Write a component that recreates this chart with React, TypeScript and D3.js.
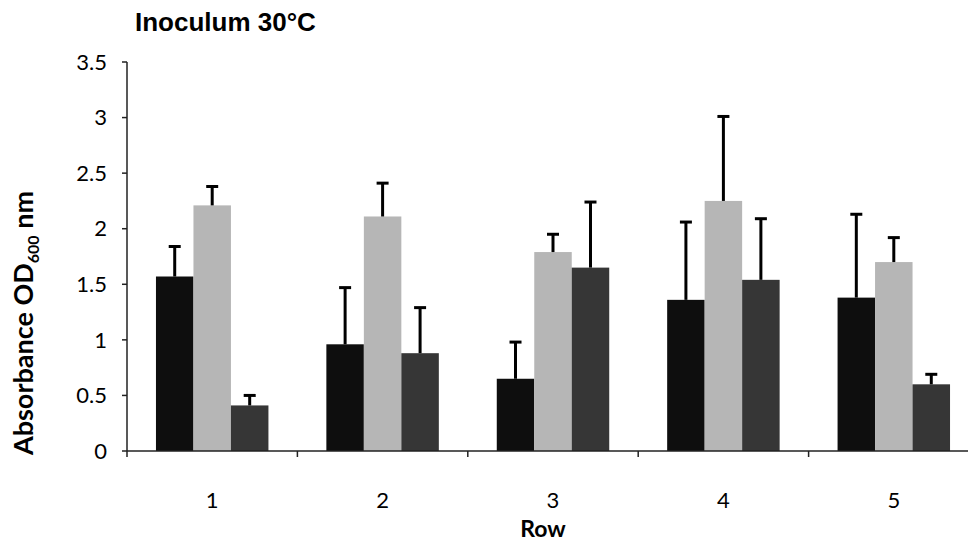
import React, { useEffect, useRef } from "react";
import * as d3 from "d3";

const rows = ["1", "2", "3", "4", "5"];
const series = ["a", "b", "c"];
const colors = ["#0e0e0e", "#b6b6b6", "#363636"];
const means = [
   [1.57, 2.21, 0.41],
   [0.96, 2.11, 0.88],
   [0.65, 1.79, 1.65],
   [1.36, 2.25, 1.54],
   [1.38, 1.7, 0.6],
];
const errors = [
   [0.27, 0.17, 0.09],
   [0.51, 0.3, 0.41],
   [0.33, 0.16, 0.59],
   [0.7, 0.76, 0.55],
   [0.75, 0.22, 0.09],
];
const yTicks = [0, 0.5, 1, 1.5, 2, 2.5, 3, 3.5];

export default function App() {
   const ref = useRef<SVGSVGElement>(null);

   useEffect(() => {
      const svg = d3.select(ref.current);
      svg.selectAll("*").remove();

      const left = 127;
      const right = 979;
      const top = 62;
      const bottom = 451;

      const x0 = d3
         .scaleBand()
         .domain(rows)
         .range([left, right])
         .paddingInner(0.34)
         .paddingOuter(0.17);
      const x1 = d3
         .scaleBand()
         .domain(series)
         .range([0, x0.bandwidth()]);
      const y = d3.scaleLinear().domain([0, 3.5]).range([bottom, top]);

      const groups = svg
         .selectAll(".grp")
         .data(rows)
         .enter()
         .append("g")
         .attr("class", "grp")
         .attr("transform", (d) => "translate(" + x0(d) + ",0)");

      const cells = (d: string, i: number) =>
         series.map((s, j) => ({ s, j, v: means[i][j], e: errors[i][j] }));

      groups
         .selectAll("rect")
         .data(cells)
         .enter()
         .append("rect")
         .attr("x", (d) => x1(d.s)!)
         .attr("width", x1.bandwidth())
         .attr("y", (d) => y(d.v))
         .attr("height", (d) => y(0) - y(d.v))
         .attr("fill", (d) => colors[d.j]);

      const eb = groups
         .selectAll(".err")
         .data(cells)
         .enter()
         .append("g")
         .attr("class", "err");
      eb.append("line")
         .attr("x1", (d) => x1(d.s)! + x1.bandwidth() / 2)
         .attr("x2", (d) => x1(d.s)! + x1.bandwidth() / 2)
         .attr("y1", (d) => y(d.v))
         .attr("y2", (d) => y(d.v + d.e))
         .attr("stroke", "#000")
         .attr("stroke-width", 3);
      eb.append("line")
         .attr("x1", (d) => x1(d.s)! + x1.bandwidth() / 2 - 6)
         .attr("x2", (d) => x1(d.s)! + x1.bandwidth() / 2 + 6)
         .attr("y1", (d) => y(d.v + d.e))
         .attr("y2", (d) => y(d.v + d.e))
         .attr("stroke", "#000")
         .attr("stroke-width", 3);

      // y axis
      svg.append("line")
         .attr("x1", left)
         .attr("x2", left)
         .attr("y1", top)
         .attr("y2", bottom)
         .attr("stroke", "#222")
         .attr("stroke-width", 1.5);
      svg.selectAll(".ytick")
         .data(yTicks)
         .enter()
         .append("line")
         .attr("x1", left - 5)
         .attr("x2", left)
         .attr("y1", (d) => y(d))
         .attr("y2", (d) => y(d))
         .attr("stroke", "#222")
         .attr("stroke-width", 1.5);
      svg.selectAll(".ylab")
         .data(yTicks)
         .enter()
         .append("text")
         .attr("x", left - 20)
         .attr("y", (d) => y(d))
         .attr("dy", "0.35em")
         .attr("text-anchor", "end")
         .style("font-family", "Lato, sans-serif")
         .style("font-size", "22px")
         .text((d) => String(d));

      // x axis
      const step = x0.step();
      svg.append("line")
         .attr("x1", left)
         .attr("x2", 968)
         .attr("y1", bottom)
         .attr("y2", bottom)
         .attr("stroke", "#222")
         .attr("stroke-width", 1.5);
      svg.selectAll(".xtick")
         .data(rows)
         .enter()
         .append("line")
         .attr("x1", (d) => x0(d)! - step * 0.17)
         .attr("x2", (d) => x0(d)! - step * 0.17)
         .attr("y1", bottom)
         .attr("y2", bottom + 6)
         .attr("stroke", "#222")
         .attr("stroke-width", 1.5);
      svg.selectAll(".xlab")
         .data(rows)
         .enter()
         .append("text")
         .attr("x", (d) => x0(d)! + x0.bandwidth() / 2)
         .attr("y", 508)
         .attr("text-anchor", "middle")
         .style("font-family", "Lato, sans-serif")
         .style("font-size", "22px")
         .text((d) => d);

      svg.append("text")
         .attr("x", 543)
         .attr("y", 537)
         .attr("text-anchor", "middle")
         .style("font-family", "Lato, sans-serif")
         .style("font-weight", "bold")
         .style("font-size", "23px")
         .text("Row");

      const yl = svg
         .append("text")
         .attr("transform", "translate(33," + 323 + ") rotate(-90)")
         .attr("text-anchor", "middle")
         .style("font-family", "Lato, sans-serif")
         .style("font-weight", "bold")
         .style("font-size", "27px");
      yl.append("tspan").text("Absorbance OD");
      yl.append("tspan").attr("dy", 6).style("font-size", "16px").text("600");
      yl.append("tspan").attr("dy", -6).text(" nm");

      svg.append("text")
         .attr("x", 135)
         .attr("y", 31)
         .style("font-family", "'Liberation Sans', Arial, sans-serif")
         .style("font-weight", "bold")
         .style("font-size", "26px")
         .text("Inoculum 30°C");
   }, []);

   return (
      <svg
         ref={ref}
         width={970}
         height={546}
         style={{ position: "absolute", left: 0, top: 0, background: "#fff" }}
      />
   );
}
